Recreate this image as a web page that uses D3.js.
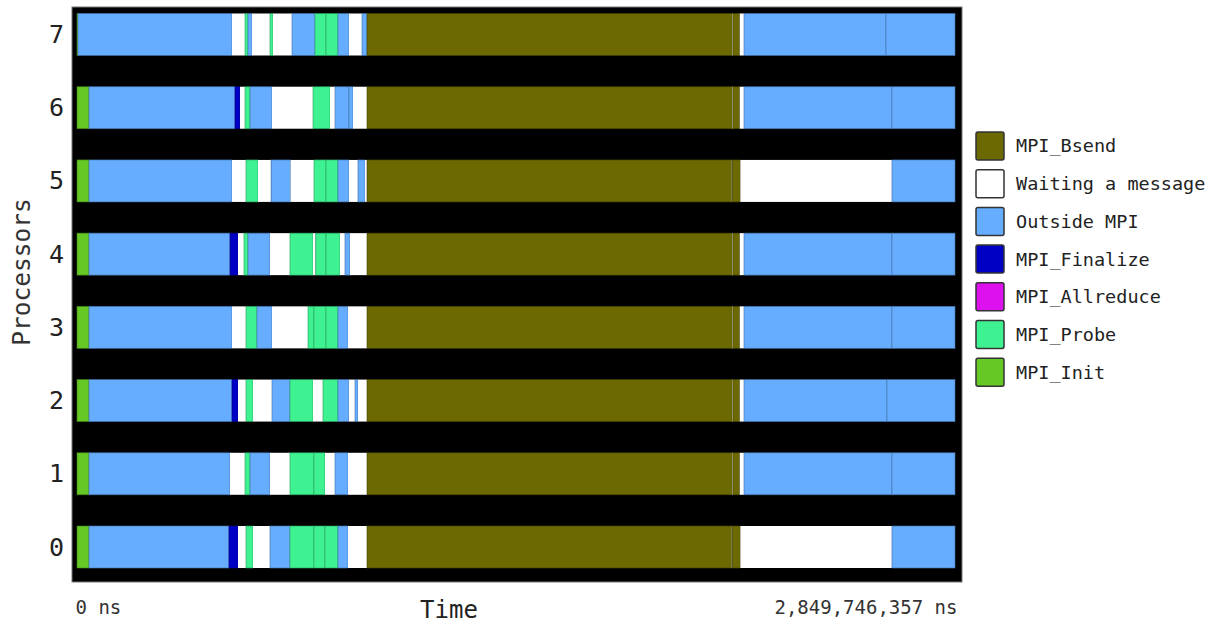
<!DOCTYPE html>
<html>
<head>
<meta charset="utf-8">
<script src="https://cdn.jsdelivr.net/npm/d3@7"></script>
<style>
  html, body { margin: 0; padding: 0; background: #fff; }
  svg { display: block; }
</style>
</head>
<body>
<svg id="chart" width="1225" height="623"></svg>
<script>
// Processor ranks, top to bottom
const processors = ["7", "6", "5", "4", "3", "2", "1", "0"];

// States and their colours (legend order)
const stateNames = ["MPI_Bsend", "Waiting a message", "Outside MPI", "MPI_Finalize", "MPI_Allreduce", "MPI_Probe", "MPI_Init"];
const stateCodes = ["B", "W", "O", "F", "A", "P", "I"];
const stateColors = ["#6b6900", "#ffffff", "#67adff", "#0000c4", "#dd11ee", "#3ff291", "#66c825"];

// Total trace duration (ms) and axis end labels
const traceEndMs = 2849.746357;
const timeTickLabels = ["0 ns", "2,849,746,357 ns"];

// Per-processor timelines: [state code, end time in ms]; each state starts where the previous one ended
const timeline7 = [["I",3.2],["O",503.1],["W",545.3],["P",555.0],["O",568.0],["W",626.4],["P",636.2],["W",697.8],["O",772.5],["P",808.2],["P",847.1],["O",882.8],["W",925.0],["O",941.3],["B",2127.0],["W",2129.0],["B",2151.0],["W",2164.9],["O",2625.8],["O",2849.746357]];
const timeline6 = [["I",38.9],["O",512.8],["F",529.0],["W",545.3],["P",561.5],["O",632.9],["W",766.0],["P",821.2],["W",837.4],["O",882.8],["O",895.8],["W",941.3],["B",2127.0],["W",2129.0],["B",2151.0],["W",2164.9],["O",2645.2],["O",2849.746357]];
const timeline5 = [["I",38.9],["O",503.1],["W",548.5],["P",587.5],["W",630.0],["O",693.0],["W",769.2],["P",808.2],["P",847.1],["O",882.8],["W",912.0],["O",934.8],["W",941.3],["B",2125.0],["W",2127.0],["B",2153.0],["W",2645.2],["O",2849.746357]];
const timeline4 = [["I",38.9],["O",496.6],["F",522.6],["W",542.0],["P",555.0],["O",626.4],["W",691.3],["P",766.0],["W",775.0],["P",808.2],["P",853.6],["W",869.8],["O",886.1],["W",941.3],["B",2127.0],["W",2129.0],["B",2151.0],["W",2164.9],["O",2645.2],["O",2849.746357]];
const timeline3 = [["I",38.9],["O",503.1],["W",548.5],["P",584.2],["O",632.9],["W",749.8],["P",769.2],["P",808.2],["P",847.1],["O",879.6],["W",941.3],["B",2127.0],["W",2129.0],["B",2151.0],["W",2164.9],["O",2645.2],["O",2849.746357]];
const timeline2 = [["I",38.9],["O",503.1],["F",522.6],["W",548.5],["P",571.2],["W",632.9],["O",691.3],["P",766.0],["W",798.4],["P",847.1],["O",882.8],["W",902.3],["O",912.0],["W",941.3],["B",2127.0],["W",2129.0],["B",2151.0],["W",2164.9],["O",2629.0],["O",2849.746357]];
const timeline1 = [["I",38.9],["O",496.6],["W",545.3],["P",561.5],["O",626.4],["W",691.3],["P",769.2],["P",804.9],["W",837.4],["O",879.6],["W",941.3],["B",2127.0],["W",2129.0],["B",2151.0],["W",2164.9],["O",2645.2],["O",2849.746357]];
const timeline0 = [["I",38.9],["O",493.3],["F",522.6],["W",548.5],["P",571.2],["W",626.4],["O",691.3],["P",769.2],["P",804.9],["P",847.1],["O",879.6],["W",941.3],["B",2125.0],["W",2127.0],["B",2153.0],["W",2645.2],["O",2849.746357]];

const timelines = {"7": timeline7, "6": timeline6, "5": timeline5, "4": timeline4,
                   "3": timeline3, "2": timeline2, "1": timeline1, "0": timeline0};

// Flatten into segments
const segments = [];
processors.forEach(p => {
  let start = 0;
  timelines[p].forEach(([code, end]) => {
    segments.push({proc: p, code, start, end});
    start = end;
  });
});

const color = d3.scaleOrdinal().domain(stateCodes).range(stateColors);

const svg = d3.select("#chart");
const mono = "'DejaVu Sans Mono', 'Liberation Mono', monospace";

// Plot frame
const frame = {x: 72, y: 7, w: 890, h: 575};

const x = d3.scaleLinear().domain([0, traceEndMs]).range([77, 955]);
const y = d3.scalePoint().domain(processors).range([34.5, 547]);
const barH = 42;

svg.append("rect")
  .attr("x", frame.x).attr("y", frame.y)
  .attr("width", frame.w).attr("height", frame.h)
  .attr("fill", "#000")
  .attr("stroke", "#777").attr("stroke-width", 1);

// State segments
svg.append("g").selectAll("rect")
  .data(segments)
  .join("rect")
  .attr("x", d => x(d.start))
  .attr("y", d => y(d.proc) - barH / 2)
  .attr("width", d => Math.max(0.8, x(d.end) - x(d.start)))
  .attr("height", barH)
  .attr("fill", d => color(d.code))
  .attr("stroke", d => d.code === "W" ? "none" : d3.color(color(d.code)).darker(1.2))
  .attr("stroke-width", 0.8)
  .attr("stroke-opacity", 0.75);

// Processor axis
const yAxis = svg.append("g")
  .attr("transform", `translate(${frame.x - 6},0)`)
  .call(d3.axisLeft(y).tickSize(0).tickPadding(2));
yAxis.select(".domain").remove();
yAxis.selectAll("text")
  .attr("font-family", mono)
  .attr("font-size", 25)
  .attr("fill", "#222");

svg.append("text")
  .attr("transform", "translate(30,272) rotate(-90)")
  .attr("text-anchor", "middle")
  .attr("font-family", mono)
  .attr("font-size", 24.5)
  .attr("fill", "#333")
  .text("Processors");

// Time axis: start and end labels only
const xAxis = svg.append("g")
  .attr("transform", `translate(0,${frame.y + frame.h})`)
  .call(d3.axisBottom(x)
    .tickValues([0, traceEndMs])
    .tickSize(0)
    .tickPadding(19)
    .tickFormat((d, i) => timeTickLabels[i]));
xAxis.select(".domain").remove();
xAxis.selectAll("text")
  .attr("font-family", mono)
  .attr("font-size", 19)
  .attr("fill", "#333")
  .attr("text-anchor", (d, i) => i === 0 ? "start" : "end")
  .attr("dx", (d, i) => i === 0 ? -2 : 2);

svg.append("text")
  .attr("x", 449).attr("y", 618)
  .attr("text-anchor", "middle")
  .attr("font-family", mono)
  .attr("font-size", 24)
  .attr("fill", "#222")
  .text("Time");

// Legend
const legend = svg.append("g").attr("transform", "translate(976,132)");
const item = legend.selectAll("g")
  .data(stateNames)
  .join("g")
  .attr("transform", (d, i) => `translate(0,${i * 37.7})`);
item.append("rect")
  .attr("width", 28).attr("height", 28)
  .attr("rx", 2)
  .attr("fill", (d, i) => stateColors[i])
  .attr("stroke", "#333").attr("stroke-width", 1.5);
item.append("text")
  .attr("x", 40).attr("y", 14)
  .attr("dy", "0.35em")
  .attr("font-family", mono)
  .attr("font-size", 18.5)
  .attr("fill", "#222")
  .text(d => d);
</script>
</body>
</html>
